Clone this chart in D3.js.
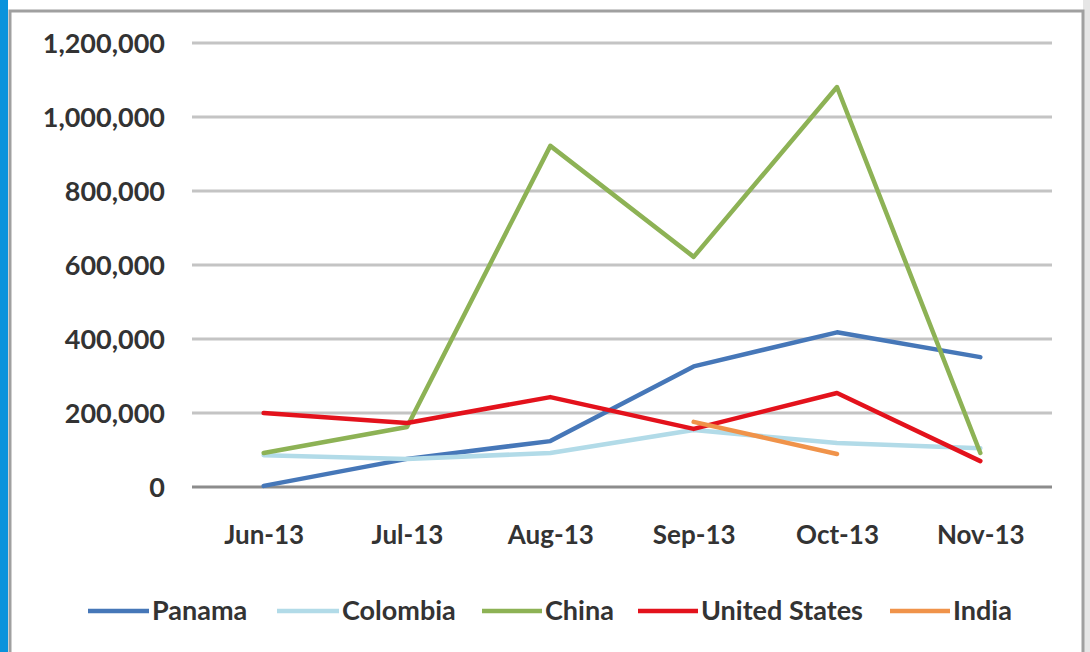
<!DOCTYPE html>
<html>
<head>
<meta charset="utf-8">
<script src="https://cdn.jsdelivr.net/npm/d3@7"></script>
<style>
  html, body { margin: 0; padding: 0; background: #ffffff; }
  svg { display: block; }
</style>
</head>
<body>
<svg id="chart" width="1090" height="652"></svg>
<script>
const months = ["Jun-13", "Jul-13", "Aug-13", "Sep-13", "Oct-13", "Nov-13"];
const yTicks = [0, 200000, 400000, 600000, 800000, 1000000, 1200000];
const seriesNames = ["Panama", "Colombia", "China", "United States", "India"];
const panama = [3000, 76000, 124000, 326000, 418000, 351000];
const colombia = [86000, 76000, 92000, 154000, 119000, 105000];
const china = [92000, 162000, 922000, 622000, 1081000, 92000];
const unitedStates = [200000, 173000, 243000, 157000, 254000, 70000];
const india = [null, null, null, 176000, 89000, null];
const seriesColors = ["#4677b8", "#b2dbe8", "#8db255", "#e3121c", "#f0934a"];

const seriesData = [panama, colombia, china, unitedStates, india];

const svg = d3.select("#chart");
const font = "Lato, 'Open Sans', sans-serif";

// Frame
svg.append("rect").attr("x", 0).attr("y", 0).attr("width", 1090).attr("height", 652).attr("fill", "#ffffff");
svg.append("rect").attr("x", 0).attr("y", 0).attr("width", 8).attr("height", 652).attr("fill", "#0a93dc");
svg.append("rect").attr("x", 1083).attr("y", 0).attr("width", 7).attr("height", 652).attr("fill", "#e6e6e6");
svg.append("path").attr("d", "M10,652 V11 H1083 V652")
  .attr("fill", "none").attr("stroke", "#a0a0a0").attr("stroke-width", 3);

const x = d3.scalePoint().domain(months).range([192, 1052]).padding(0.5);
const y = d3.scaleLinear().domain([0, 1200000]).range([487, 43]);

// Gridlines
svg.append("g").selectAll("line").data(yTicks).join("line")
  .attr("x1", 192).attr("x2", 1052)
  .attr("y1", d => y(d)).attr("y2", d => y(d))
  .attr("stroke", d => d === 0 ? "#8c8c8c" : "#c4c4c4")
  .attr("stroke-width", 3);

// Y axis labels
const yAxis = d3.axisLeft(y).tickValues(yTicks).tickSize(0).tickPadding(0)
  .tickFormat(d3.format(","));
const gy = svg.append("g").attr("transform", "translate(165,0)").call(yAxis);
gy.select(".domain").remove();
gy.selectAll("text").attr("font-family", font).attr("font-size", 27).attr("font-weight", 700)
  .attr("fill", "#333333").attr("dy", "0.35em");

// X axis labels
const xAxis = d3.axisBottom(x).tickSize(0).tickPadding(0);
const gx = svg.append("g").attr("transform", "translate(0,525)").call(xAxis);
gx.select(".domain").remove();
gx.selectAll("text").attr("font-family", font).attr("font-size", 26).attr("font-weight", 700)
  .attr("fill", "#333333").attr("dy", "0.72em");

// Lines
const line = d3.line()
  .defined(d => d.v !== null)
  .x(d => x(d.m))
  .y(d => y(d.v));

seriesData.forEach((vals, i) => {
  const pts = months.map((m, j) => ({ m: m, v: vals[j] }));
  svg.append("path").datum(pts)
    .attr("d", line)
    .attr("fill", "none")
    .attr("stroke", seriesColors[i])
    .attr("stroke-width", 4.5)
    .attr("stroke-linejoin", "round")
    .attr("stroke-linecap", "round");
});

// Legend
const legendX = [88, 277, 482, 638, 890];
const legendLen = [61, 62, 60, 60, 60];
const lg = svg.append("g");
seriesNames.forEach((name, i) => {
  lg.append("line")
    .attr("x1", legendX[i]).attr("x2", legendX[i] + legendLen[i])
    .attr("y1", 611).attr("y2", 611)
    .attr("stroke", seriesColors[i]).attr("stroke-width", 4.5);
  lg.append("text")
    .attr("x", legendX[i] + legendLen[i] + 3).attr("y", 611)
    .attr("dy", "0.35em")
    .attr("font-family", font).attr("font-size", 27).attr("font-weight", 700)
    .attr("fill", "#333333")
    .text(name);
});
</script>
</body>
</html>
